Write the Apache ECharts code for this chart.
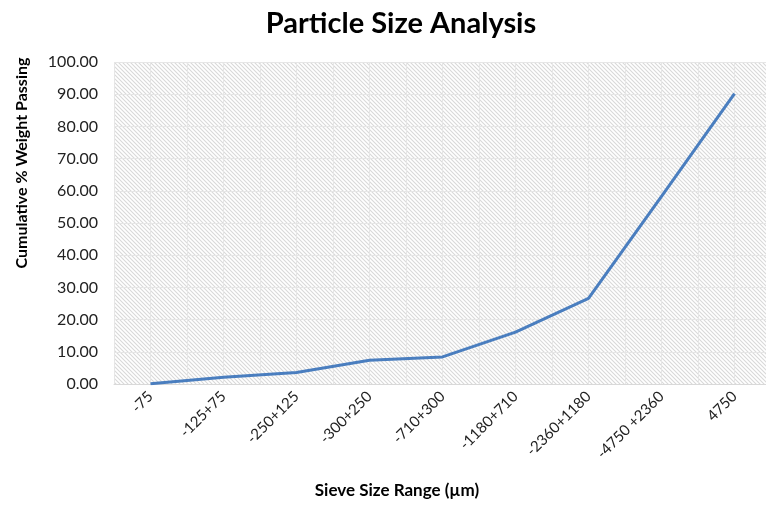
<!DOCTYPE html>
<html><head><meta charset="utf-8">
<script src="https://cdn.jsdelivr.net/npm/echarts@6/dist/echarts.min.js"></script>
<style>html,body{margin:0;padding:0;background:#fff;overflow:hidden;width:766px;height:505px}#c{width:772px;height:505px}</style>
</head><body><div id="c"></div>
<script>
const categories = ['-75','-125+75','-250+125','-300+250','-710+300','-1180+710','-2360+1180','-4750 +2360','4750'];
const passing = [0.1, 2.1, 3.6, 7.4, 8.4, 16.1, 26.6, 58.3, 90.2];
const yTicks = {min: 0, max: 100, interval: 10};

const pc = document.createElement('canvas');
pc.width = 4; pc.height = 4;
const g = pc.getContext('2d');
g.fillStyle = '#ffffff'; g.fillRect(0,0,4,4);
g.strokeStyle = '#d9d9d9'; g.lineWidth = 1.1;
g.beginPath();
g.moveTo(-1,-1); g.lineTo(5,5);
g.moveTo(-1,3); g.lineTo(1,5);
g.moveTo(3,-1); g.lineTo(5,1);
g.stroke();

const font = 'Lato, "Open Sans", sans-serif';
const chart = echarts.init(document.getElementById('c'));
chart.setOption({
  animation: false,
  title: {text: 'Particle Size Analysis', left: 396, top: 4, textAlign: 'center',
    textStyle: {fontFamily: font, fontWeight: 'bold', fontSize: 29, color: '#000'}},
  grid: {left: 114, top: 62, width: 657, height: 322, show: true,
    backgroundColor: {image: pc, repeat: 'repeat'}, borderWidth: 0},
  xAxis: [{
    type: 'category', data: categories, boundaryGap: true,
    axisLine: {lineStyle: {color: '#d9d9d9', width: 1}},
    axisTick: {show: false},
    axisLabel: {rotate: 45, fontFamily: font, fontSize: 15, color: '#222', margin: 10, interval: 0},
    splitLine: {show: false}
  },{
    type: 'value', min: 0, max: 18, interval: 1, position: 'bottom',
    axisLine: {show: false}, axisTick: {show: false}, axisLabel: {show: false},
    splitLine: {show: true, lineStyle: {color: '#e6e6e6', width: 1}}
  }],
  yAxis: {
    type: 'value', min: yTicks.min, max: yTicks.max, interval: yTicks.interval,
    axisLine: {show: false}, axisTick: {show: false},
    axisLabel: {formatter: v => v.toFixed(2), fontFamily: font, fontSize: 16, color: '#222', margin: 16},
    splitLine: {lineStyle: {color: '#e6e6e6', width: 1}}
  },
  graphic: [
    {type: 'text', x: 22, y: 163, rotation: Math.PI/2,
      style: {text: 'Cumulative % Weight Passing', fontFamily: font, fontWeight: 'bold', fontSize: 16,
        fill: '#000', align: 'center', verticalAlign: 'middle'}},
    {type: 'text', x: 397, y: 491,
      style: {text: 'Sieve Size Range (µm)', fontFamily: font, fontWeight: 'bold', fontSize: 17,
        fill: '#000', align: 'center', verticalAlign: 'middle'}}
  ],
  series: [{
    type: 'line', data: passing, xAxisIndex: 0, symbol: 'none',
    lineStyle: {color: '#4a7ebf', width: 3}
  }]
});
</script></body></html>
